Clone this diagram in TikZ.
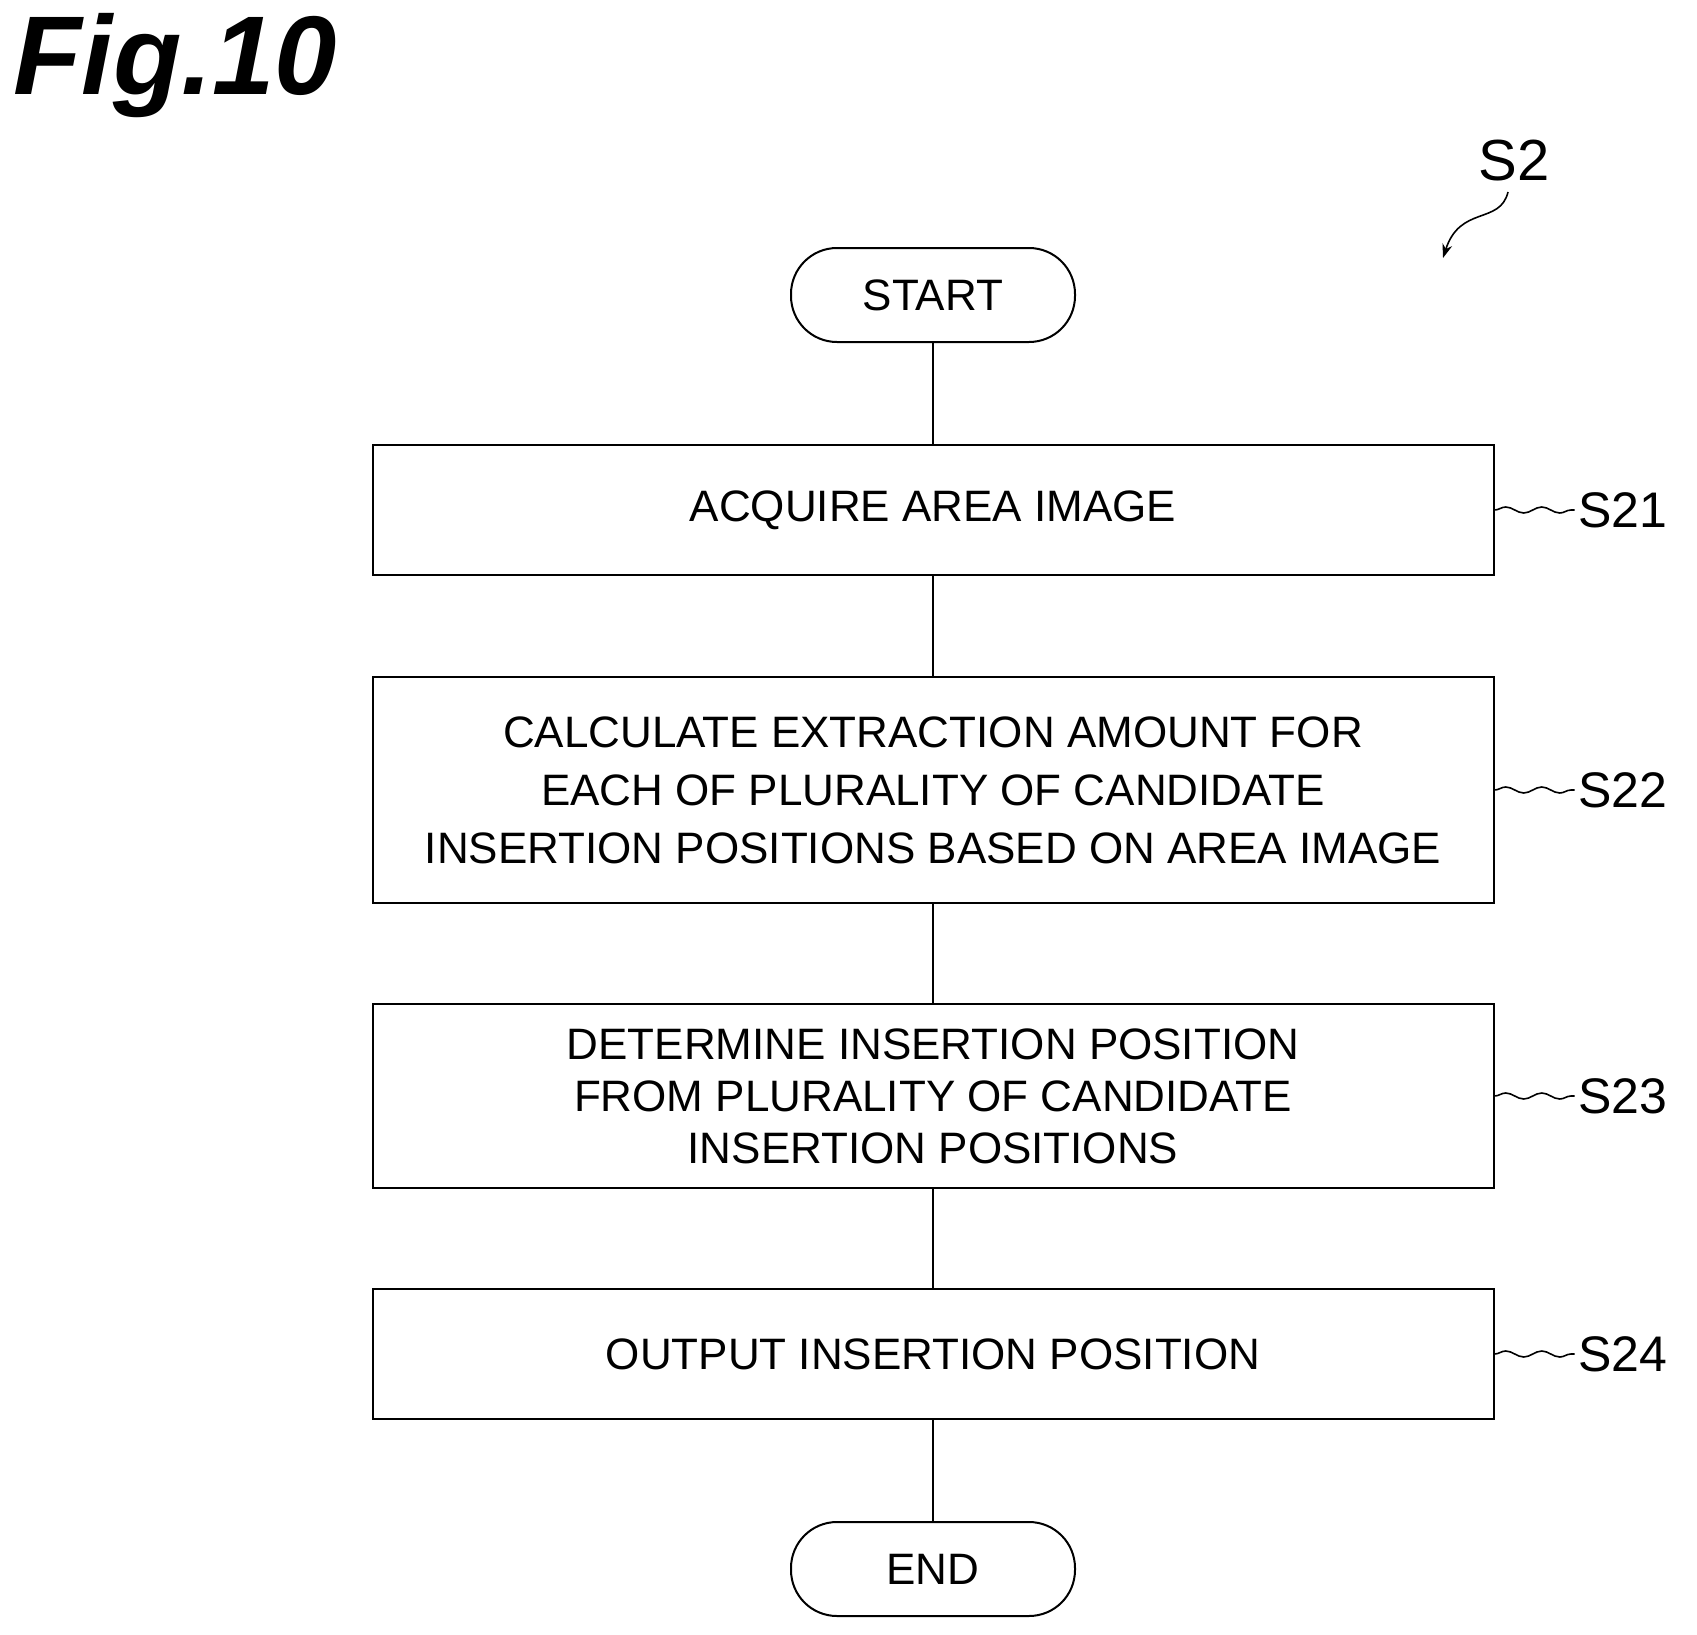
\documentclass[tikz,border=0pt]{standalone}
\usepackage{fontspec}
\setmainfont{Liberation Sans}
\usetikzlibrary{decorations.pathmorphing,arrows.meta}
\begin{document}
\begin{tikzpicture}[x=1pt,y=-1pt,
  box/.style={draw,line width=2pt,minimum width=1121pt,align=center,font=\fontsize{44}{58}\selectfont,inner sep=0pt},
  term/.style={draw,line width=2pt,rounded corners=46pt,minimum width=284pt,minimum height=94pt,font=\fontsize{44}{52}\selectfont},
  lab/.style={font=\fontsize{50}{60}\selectfont,anchor=west},
  squig/.style={line width=1.6pt,decorate,decoration={snake,amplitude=3pt,segment length=36pt}},
  conn/.style={line width=2pt}]
\useasboundingbox (0,0) rectangle (1697,1635);
\node[anchor=north west,font=\fontsize{112}{112}\selectfont\bfseries\itshape] (fig) at (10,10) {Fig.10};
\node[font=\fontsize{58}{60}\selectfont] (s2) at (1514,161) {S2};
\coordinate (s2a) at (1508,192);
\coordinate (s2b) at (1443,258);
\draw[line width=1.6pt,-{Stealth[length=14pt,width=10pt]}] (s2a) .. controls (1500,225) and (1460,205) .. (s2b);
\node[term] (start) at (933,295) {START};
\node[box,minimum height=130pt] (b1) at (933,510) {ACQUIRE AREA IMAGE};
\node[box,minimum height=226pt] (b2) at (933,790) {CALCULATE EXTRACTION AMOUNT FOR\\EACH OF PLURALITY OF CANDIDATE\\INSERTION POSITIONS BASED ON AREA IMAGE};
\node[box,minimum height=184pt,font=\fontsize{44}{52}\selectfont] (b3) at (933,1096) {DETERMINE INSERTION POSITION\\FROM PLURALITY OF CANDIDATE\\INSERTION POSITIONS};
\node[box,minimum height=130pt] (b4) at (933,1354) {OUTPUT INSERTION POSITION};
\node[term] (end) at (933,1569) {END};
\draw[conn] (start) -- (b1);
\draw[conn] (b1) -- (b2);
\draw[conn] (b2) -- (b3);
\draw[conn] (b3) -- (b4);
\draw[conn] (b4) -- (end);
\foreach \b/\t in {b1/S21,b2/S22,b3/S23,b4/S24}{
  \node[lab] (l\b) at ([xshift=80pt]\b.east) {\t};
  \draw[squig] (\b.east) -- (l\b.west);
}
\end{tikzpicture}
\end{document}
